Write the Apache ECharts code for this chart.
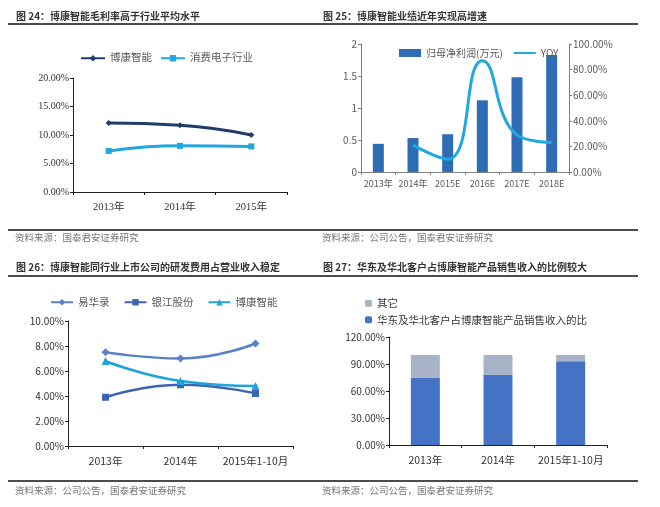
<!DOCTYPE html>
<html>
<head>
<meta charset="utf-8">
<script src="https://cdn.jsdelivr.net/npm/echarts@6/dist/echarts.min.js"></script>
<style>
  html, body { margin: 0; padding: 0; background: #fff; }
  #page { position: relative; width: 660px; height: 507px; }
  .box { position: absolute; }
</style>
</head>
<body>
<div id="page">
  <div class="box" id="c24" style="left:0;top:0;width:320px;height:250px"></div>
  <div class="box" id="c25" style="left:320px;top:0;width:340px;height:250px"></div>
  <div class="box" id="c26" style="left:0;top:250px;width:320px;height:257px"></div>
  <div class="box" id="c27" style="left:320px;top:250px;width:340px;height:257px"></div>
</div>
<script>
// 图24
const years3 = ['2013年', '2014年', '2015年'];
const bokangMargin = [0.121, 0.117, 0.100];
const consumerMargin = [0.072, 0.081, 0.080];
const marginTicks = ['0.00%', '5.00%', '10.00%', '15.00%', '20.00%'];

// 图25
const years6 = ['2013年', '2014年', '2015E', '2016E', '2017E', '2018E'];
const netProfit = [0.44, 0.53, 0.59, 1.12, 1.48, 1.83];
const yoy = [null, 0.21, 0.10, 0.87, 0.29, 0.23];

// 图26
const years26 = ['2013年', '2014年', '2015年1-10月'];
const yihualu = [0.075, 0.070, 0.082];
const yinjiang = [0.039, 0.049, 0.042];
const bokangRD = [0.068, 0.052, 0.048];

// 图27
const eastNorthShare = [0.75, 0.78, 0.93];
const otherShare = [0.25, 0.22, 0.07];

const sans = 'Noto Sans CJK SC, Liberation Sans, sans-serif';
const serif = 'Liberation Serif, Noto Sans CJK SC, serif';
const axisGray = '#7f7f7f';
const labelGray = '#595959';

const pct = (v) => (v * 100).toFixed(2) + '%';

// title, rules and source note shared by all four panels
const frame = (title, titleX, ruleX1, ruleX2, titleY, ruleY, note, noteY, noteRuleY) => [
  { type: 'text', left: titleX, top: titleY, style: { text: title, fontSize: 10, fontWeight: 'bold', fill: '#333', fontFamily: sans } },
  { type: 'line', shape: { x1: ruleX1, y1: ruleY, x2: ruleX2, y2: ruleY }, style: { stroke: '#111', lineWidth: 1.5 } },
  { type: 'line', shape: { x1: ruleX1, y1: noteRuleY, x2: ruleX2, y2: noteRuleY }, style: { stroke: '#111', lineWidth: 1.5 } },
  { type: 'text', left: titleX - 1, top: noteY, style: { text: note, fontSize: 9.5, fill: '#777', fontFamily: sans } }
];

const catAxis = (data, font, margin, size) => ({
  type: 'category',
  data: data,
  axisLine: { lineStyle: { color: '#222' } },
  axisTick: { show: true, length: 3, lineStyle: { color: '#222' } },
  axisLabel: { color: '#333', fontSize: size || 10.5, fontFamily: font, margin: margin, interval: 0 }
});

const valAxis = (max, interval, fmt, font) => ({
  type: 'value',
  min: 0,
  max: max,
  interval: interval,
  axisLine: { show: true, lineStyle: { color: '#222' } },
  axisTick: { show: true, length: 3, lineStyle: { color: '#222' } },
  splitLine: { show: false },
  axisLabel: { color: '#333', fontSize: 10, fontFamily: font, formatter: fmt, margin: 4 }
});

const chart24 = echarts.init(document.getElementById('c24'));
chart24.setOption({
  animation: false,
  graphic: frame('图 24：博康智能毛利率高于行业平均水平', 16, 8, 320, 11, 24, '资料来源：国泰君安证券研究', 233, 230),
  legend: {
    left: 75, top: 48, itemWidth: 24, itemHeight: 8, itemGap: 8,
    textStyle: { color: labelGray, fontSize: 10.5, fontFamily: serif },
    data: ['博康智能', '消费电子行业']
  },
  grid: { left: 73, right: 33, top: 78, bottom: 58 },
  xAxis: catAxis(years3, serif, 10),
  yAxis: valAxis(0.2, 0.05, (v) => marginTicks[Math.round(v / 0.05)], serif),
  series: [
    { name: '博康智能', type: 'line', smooth: true, data: bokangMargin, symbol: 'diamond', symbolSize: 6,
      lineStyle: { color: '#213b6e', width: 3 }, itemStyle: { color: '#213b6e' } },
    { name: '消费电子行业', type: 'line', smooth: true, data: consumerMargin, symbol: 'rect', symbolSize: 6,
      lineStyle: { color: '#21a6e0', width: 3 }, itemStyle: { color: '#21a6e0' } }
  ]
});

const chart25 = echarts.init(document.getElementById('c25'));
const grayAxis = (ax) => {
  ax.axisLine.lineStyle.color = axisGray;
  ax.axisTick.lineStyle.color = axisGray;
  ax.axisLabel.color = labelGray;
  return ax;
};
chart25.setOption({
  animation: false,
  graphic: frame('图 25：博康智能业绩近年实现高增速', 3, 0, 318, 11, 24, '资料来源：公司公告，国泰君安证券研究', 233, 230),
  legend: {
    left: 74, top: 43, itemWidth: 22, itemHeight: 8, itemGap: 10,
    textStyle: { color: labelGray, fontSize: 10, fontFamily: sans },
    data: [{ name: '归母净利润(万元)', icon: 'rect' }, { name: 'YOY', itemStyle: { opacity: 0 } }]
  },
  grid: { left: 41, right: 91, top: 44, bottom: 78 },
  xAxis: grayAxis(catAxis(years6, sans, 7, 9)),
  yAxis: [
    grayAxis(valAxis(2, 0.5, (v) => String(v), sans)),
    grayAxis(Object.assign(valAxis(1, 0.2, pct, sans), { position: 'right' }))
  ],
  series: [
    { name: '归母净利润(万元)', type: 'bar', data: netProfit, barWidth: 11, itemStyle: { color: '#2e6db5' } },
    { name: 'YOY', type: 'line', yAxisIndex: 1, smooth: true, data: yoy, symbol: 'none',
      lineStyle: { color: '#22a8e0', width: 3 }, itemStyle: { color: '#22a8e0' } }
  ]
});

const chart26 = echarts.init(document.getElementById('c26'));
chart26.setOption({
  animation: false,
  graphic: frame('图 26：博康智能同行业上市公司的研发费用占营业收入稳定', 16, 8, 320, 12, 26, '资料来源：公司公告，国泰君安证券研究', 236, 231),
  legend: {
    left: 45, top: 42, itemWidth: 22, itemHeight: 8, itemGap: 14,
    textStyle: { color: labelGray, fontSize: 10.5, fontFamily: sans },
    data: ['易华录', '银江股份', '博康智能']
  },
  grid: { left: 68, right: 27, top: 71, bottom: 61 },
  xAxis: catAxis(years26, sans, 10),
  yAxis: valAxis(0.1, 0.02, pct, sans),
  series: [
    { name: '易华录', type: 'line', smooth: true, data: yihualu, symbol: 'diamond', symbolSize: 8,
      lineStyle: { color: '#5b80c6', width: 2.5 }, itemStyle: { color: '#5b80c6' } },
    { name: '银江股份', type: 'line', smooth: true, data: yinjiang, symbol: 'rect', symbolSize: 7,
      lineStyle: { color: '#3f62b3', width: 2.5 }, itemStyle: { color: '#3f62b3' } },
    { name: '博康智能', type: 'line', smooth: true, data: bokangRD, symbol: 'triangle', symbolSize: 8,
      lineStyle: { color: '#1fa3dd', width: 2.5 }, itemStyle: { color: '#1fa3dd' } }
  ]
});

const chart27 = echarts.init(document.getElementById('c27'));
chart27.setOption({
  animation: false,
  graphic: frame('图 27：华东及华北客户占博康智能产品销售收入的比例较大', 3, 0, 318, 12, 26, '资料来源：公司公告，国泰君安证券研究', 236, 231),
  legend: {
    orient: 'vertical', left: 40, top: 43, itemWidth: 7, itemHeight: 7, itemGap: 6,
    textStyle: { color: '#333', fontSize: 10.5, fontFamily: sans },
    data: ['其它', '华东及华北客户占博康智能产品销售收入的比']
  },
  grid: { left: 69, right: 53, top: 87, bottom: 62 },
  xAxis: catAxis(years26, sans, 10),
  yAxis: valAxis(1.2, 0.3, pct, sans),
  series: [
    { name: '华东及华北客户占博康智能产品销售收入的比', type: 'bar', stack: 'share', data: eastNorthShare, barWidth: 29,
      itemStyle: { color: '#4472c4' } },
    { name: '其它', type: 'bar', stack: 'share', data: otherShare, barWidth: 29,
      itemStyle: { color: '#a8b3c7' } }
  ]
});
</script>
</body>
</html>
